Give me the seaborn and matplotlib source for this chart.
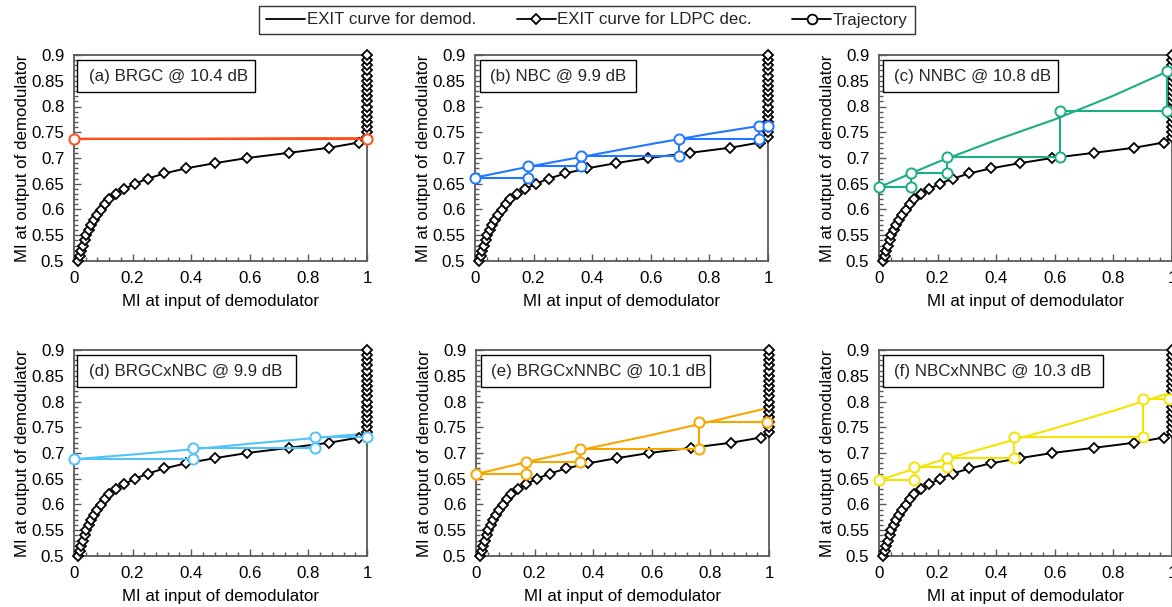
import matplotlib
matplotlib.use("Agg")
import matplotlib.pyplot as plt
from matplotlib.lines import Line2D
from matplotlib.patches import Rectangle
from matplotlib.ticker import MultipleLocator, FuncFormatter
import seaborn as sns

# ---------------- data ----------------
# EXIT curve for LDPC decoder (plotted with swapped axes)
ldpc_y = [0.50, 0.51, 0.52, 0.53, 0.54, 0.55, 0.56, 0.57, 0.58, 0.59,
          0.60, 0.61, 0.62, 0.63, 0.64, 0.65, 0.66, 0.67, 0.68, 0.69,
          0.70, 0.71, 0.72, 0.73, 0.74, 0.75, 0.76, 0.77, 0.78, 0.79,
          0.80, 0.81, 0.82, 0.83, 0.84, 0.85, 0.86, 0.87, 0.88, 0.89, 0.90]
ldpc_x = [0.015, 0.020, 0.025, 0.030, 0.036, 0.042, 0.050, 0.058, 0.068, 0.080,
          0.092, 0.105, 0.121, 0.143, 0.172, 0.208, 0.252, 0.308, 0.383, 0.481,
          0.591, 0.733, 0.872, 0.971, 1.0, 1.0, 1.0, 1.0, 1.0, 1.0,
          1.0, 1.0, 1.0, 1.0, 1.0, 1.0, 1.0, 1.0, 1.0, 1.0, 1.0]

panel_titles = ["(a) BRGC @ 10.4 dB", "(b) NBC @ 9.9 dB", "(c) NNBC @ 10.8 dB",
                "(d) BRGCxNBC @ 9.9 dB", "(e) BRGCxNNBC @ 10.1 dB", "(f) NBCxNNBC @ 10.3 dB"]
panel_colors = ["#FF4D1C", "#2277FF", "#1CAE80", "#52C2F7", "#F7A600", "#F5E400"]

# EXIT curves for demodulator
demod_x_a = [0.0, 0.2, 0.4, 0.6, 0.8, 1.0]
demod_y_a = [0.7375, 0.7375, 0.7375, 0.738, 0.7385, 0.7385]
demod_x_b = [0.0, 0.2, 0.4, 0.6, 0.8, 1.0]
demod_y_b = [0.662, 0.685, 0.706, 0.727, 0.747, 0.765]
demod_x_c = [0.0, 0.1, 0.2, 0.4, 0.6, 0.8, 1.0]
demod_y_c = [0.643, 0.668, 0.692, 0.735, 0.775, 0.821, 0.872]
demod_x_d = [0.0, 0.2, 0.4, 0.6, 0.8, 1.0]
demod_y_d = [0.688, 0.697, 0.707, 0.718, 0.728, 0.738]
demod_x_e = [0.0, 0.2, 0.4, 0.6, 0.8, 1.0]
demod_y_e = [0.659, 0.686, 0.711, 0.735, 0.761, 0.788]
demod_x_f = [0.0, 0.2, 0.4, 0.6, 0.8, 1.0]
demod_y_f = [0.647, 0.684, 0.716, 0.748, 0.782, 0.818]

# Decoding trajectories
traj_x_a = [0.0, 1.0]
traj_y_a = [0.7375, 0.7375]
traj_x_b = [0.0, 0.182, 0.182, 0.363, 0.363, 0.697, 0.697, 0.969, 0.969, 1.0]
traj_y_b = [0.662, 0.662, 0.684, 0.684, 0.703, 0.703, 0.737, 0.737, 0.762, 0.762]
traj_x_c = [0.0, 0.109, 0.109, 0.231, 0.231, 0.618, 0.618, 0.984, 0.984]
traj_y_c = [0.643, 0.643, 0.670, 0.670, 0.701, 0.701, 0.791, 0.791, 0.869]
traj_x_d = [0.0, 0.405, 0.405, 0.821, 0.821, 1.0]
traj_y_d = [0.688, 0.688, 0.710, 0.710, 0.732, 0.732]
traj_x_e = [0.0, 0.172, 0.172, 0.356, 0.356, 0.760, 0.760, 0.994]
traj_y_e = [0.659, 0.659, 0.683, 0.683, 0.708, 0.708, 0.761, 0.761]
traj_x_f = [0.0, 0.120, 0.120, 0.231, 0.231, 0.461, 0.461, 0.901, 0.901, 0.990]
traj_y_f = [0.647, 0.647, 0.672, 0.672, 0.691, 0.691, 0.732, 0.732, 0.805, 0.805]

demods = [(demod_x_a, demod_y_a), (demod_x_b, demod_y_b), (demod_x_c, demod_y_c),
          (demod_x_d, demod_y_d), (demod_x_e, demod_y_e), (demod_x_f, demod_y_f)]
trajs = [(traj_x_a, traj_y_a), (traj_x_b, traj_y_b), (traj_x_c, traj_y_c),
         (traj_x_d, traj_y_d), (traj_x_e, traj_y_e), (traj_x_f, traj_y_f)]

# ---------------- layout / style ----------------
sns.set_style("white")
plt.rcParams["font.family"] = ["Liberation Sans", "DejaVu Sans"]

FS = 12.2
W, H = 1172, 607
fig = plt.figure(figsize=(W / 100, H / 100), dpi=100)

lefts_px = [74, 475, 879, 74, 476, 879]
bottoms_px = [261, 261, 261, 556, 556, 556]
ax_w, ax_h = 293, 206
box_x = [(0.010, 0.618), (0.017, 0.549), (0.013, 0.610),
         (0.010, 0.757), (0.016, 0.798), (0.013, 0.763)]

spine_c = "#595959"
fmt = FuncFormatter(lambda v, p: f"{v:g}")

for i in range(6):
    ax = fig.add_axes([lefts_px[i] / W, (H - bottoms_px[i]) / H, ax_w / W, ax_h / H])
    col = panel_colors[i]
    dx, dy = demods[i]
    tx, ty = trajs[i]

    # demod EXIT curve
    sns.lineplot(x=dx, y=dy, ax=ax, color=col, lw=1.5, estimator=None, sort=False, zorder=3)
    # LDPC EXIT curve
    sns.lineplot(x=ldpc_x, y=ldpc_y, ax=ax, color="black", lw=1.4, estimator=None, sort=False,
                 marker="D", markersize=4.6, markerfacecolor="white", markeredgecolor="black",
                 markeredgewidth=1.3, clip_on=False, zorder=4)
    # trajectory
    sns.lineplot(x=tx, y=ty, ax=ax, color=col, lw=1.5, estimator=None, sort=False,
                 marker="o", markersize=7.3, markerfacecolor="white", markeredgecolor=col,
                 markeredgewidth=1.4, clip_on=False, zorder=5)

    ax.set_xlim(0, 1)
    ax.set_ylim(0.5, 0.9)
    ax.xaxis.set_major_locator(MultipleLocator(0.2))
    ax.xaxis.set_minor_locator(MultipleLocator(0.04))
    ax.yaxis.set_major_locator(MultipleLocator(0.05))
    ax.yaxis.set_minor_locator(MultipleLocator(0.01))
    ax.xaxis.set_major_formatter(fmt)
    ax.yaxis.set_major_formatter(fmt)
    ax.tick_params(which="major", direction="in", length=5, width=1, color=spine_c,
                   labelsize=FS, pad=7, bottom=True, left=True, top=False, right=False,
                   labelcolor="black")
    ax.tick_params(which="minor", direction="in", length=3, width=1, color=spine_c,
                   bottom=True, left=True, top=False, right=False)
    for s in ax.spines.values():
        s.set_color(spine_c)
        s.set_linewidth(1.3)
        s.set_visible(True)

    ax.set_xlabel("MI at input of demodulator", fontsize=FS, labelpad=6, color="black")
    ax.set_ylabel("MI at output of demodulator", fontsize=FS, labelpad=1, color="black")

    x0, x1 = box_x[i]
    ax.add_patch(Rectangle((x0, 0.82), x1 - x0, 0.156, transform=ax.transAxes,
                           facecolor="white", edgecolor="black", lw=1.0, zorder=6,
                           clip_on=False))
    ax.text(0.051, 0.898, panel_titles[i], transform=ax.transAxes, fontsize=FS,
            va="center", ha="left", zorder=7)

handles = [
    Line2D([], [], color="black", lw=1.3),
    Line2D([], [], color="black", lw=1.3, marker="D", markersize=4.6,
           markerfacecolor="white", markeredgewidth=1.3),
    Line2D([], [], color="black", lw=1.3, marker="o", markersize=7,
           markerfacecolor="white", markeredgewidth=1.3),
]
labels = ["EXIT curve for demod.", "EXIT curve for LDPC dec.", "Trajectory"]
leg = fig.legend(handles, labels, loc="center", bbox_to_anchor=(587 / W, 1 - 20 / H),
                 ncol=3, frameon=True, fancybox=False, fontsize=FS, handlelength=2.3,
                 handletextpad=0.1, columnspacing=2.4, borderpad=0.4)
leg.get_frame().set_edgecolor("black")
leg.get_frame().set_linewidth(1.0)

fig.savefig("out.png", dpi=100)
